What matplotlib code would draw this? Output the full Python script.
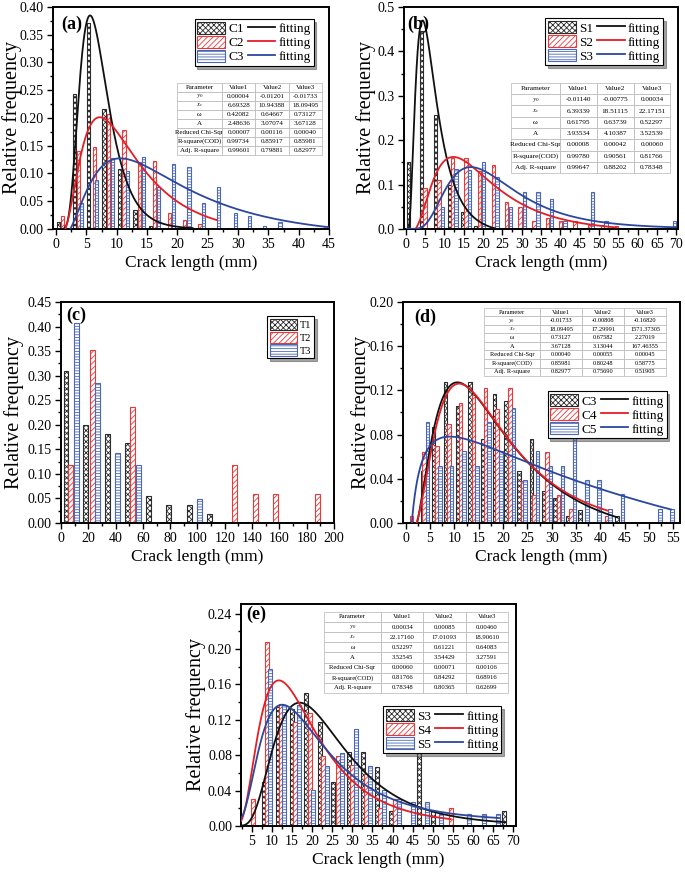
import numpy as np
import matplotlib.pyplot as plt
from matplotlib.patches import Patch
from matplotlib.lines import Line2D
from matplotlib.ticker import MultipleLocator, FormatStrFormatter

plt.rcParams['font.family'] = ['Liberation Serif', 'DejaVu Serif']
plt.rcParams['mathtext.fontset'] = 'stix'
plt.rcParams['hatch.linewidth'] = 0.6

# ---------------- data ----------------
# (a) C1 C2 C3
a1_x = [0.4, 3.0, 5.4, 7.9, 10.5, 13.0, 15.6]
a1_y = [0.013, 0.243, 0.372, 0.217, 0.108, 0.035, 0.005]
a2_x = [1.1, 3.7, 6.3, 8.6, 11.2, 13.8, 16.2, 18.7, 21.2, 23.7]
a2_y = [0.023, 0.140, 0.148, 0.208, 0.178, 0.120, 0.122, 0.028, 0.017, 0.009]
a3_x = [4.2, 6.7, 9.3, 11.8, 14.4, 16.9, 19.4, 21.9, 24.3, 26.8, 29.6, 31.9, 34.4, 36.9, 44.4]
a3_y = [0.047, 0.088, 0.128, 0.105, 0.129, 0.076, 0.117, 0.111, 0.047, 0.076, 0.029, 0.024, 0.005, 0.012, 0.005]

# (b) S1 S2 S3
b1_x = [0.7, 4.1, 7.8, 11.3, 14.7, 18.1]
b1_y = [0.152, 0.445, 0.256, 0.100, 0.038, 0.007]
b2_x = [5.0, 8.6, 12.1, 15.6, 19.1, 22.7, 26.1, 29.6, 33.2, 36.7, 40.1, 43.8, 47.5, 50.9, 54.6]
b2_y = [0.093, 0.110, 0.160, 0.160, 0.130, 0.143, 0.060, 0.050, 0.018, 0.025, 0.017, 0.017, 0.009, 0.010, 0.007]
b3_x = [9.5, 13.0, 16.5, 20.1, 23.6, 27.2, 30.7, 34.2, 37.8, 41.2, 48.3, 51.8, 69.5]
b3_y = [0.050, 0.135, 0.133, 0.150, 0.117, 0.050, 0.083, 0.083, 0.067, 0.017, 0.083, 0.017, 0.017]

# (c) T1 T2 T3
c1_x = [3.7, 18.3, 33.9, 48.5, 63.9, 78.5, 93.9, 108.5]
c1_y = [0.310, 0.200, 0.182, 0.163, 0.055, 0.037, 0.037, 0.018]
c2_x = [7.3, 22.9, 52.4, 127.3, 142.7, 157.3, 187.8]
c2_y = [0.118, 0.353, 0.236, 0.118, 0.059, 0.059, 0.059]
c3_x = [11.5, 26.6, 41.5, 56.6, 101.7]
c3_y = [0.407, 0.286, 0.143, 0.119, 0.048]

# (d) C3 C4 C5
d1_x = [3.5, 5.7, 8.2, 10.7, 13.2, 15.8, 18.2, 20.6, 23.3, 25.8, 28.3, 30.7, 33.3, 35.8, 43.4]
d1_y = [0.047, 0.087, 0.128, 0.106, 0.128, 0.076, 0.117, 0.110, 0.047, 0.076, 0.029, 0.023, 0.006, 0.012, 0.006]
d2_x = [1.2, 3.8, 6.4, 8.9, 11.3, 13.9, 16.4, 18.8, 21.4, 24.0, 26.4, 29.0, 31.4, 34.0, 41.3]
d2_y = [0.006, 0.064, 0.070, 0.090, 0.109, 0.116, 0.122, 0.103, 0.122, 0.038, 0.025, 0.064, 0.025, 0.013, 0.006]
d3_x = [4.45, 7.05, 9.45, 12.0, 14.6, 17.1, 19.6, 22.1, 24.5, 27.1, 29.7, 32.2, 34.7, 37.2, 39.7, 42.0, 44.5, 52.3, 54.7]
d3_y = [0.091, 0.052, 0.052, 0.065, 0.052, 0.091, 0.065, 0.104, 0.039, 0.065, 0.052, 0.052, 0.078, 0.039, 0.039, 0.013, 0.026, 0.013, 0.013]

# (e) S3 S4 S5
e1_x = [7.9, 11.5, 15.0, 18.4, 22.0, 25.3, 29.1, 32.6, 36.1, 39.7, 46.7, 50.2, 67.8]
e1_y = [0.050, 0.135, 0.132, 0.150, 0.117, 0.050, 0.084, 0.084, 0.067, 0.017, 0.084, 0.017, 0.017]
e2_x = [5.2, 8.7, 12.3, 15.8, 19.4, 22.8, 26.4, 29.9, 33.5, 36.9, 40.5, 54.5]
e2_y = [0.030, 0.208, 0.138, 0.118, 0.128, 0.079, 0.079, 0.069, 0.059, 0.020, 0.030, 0.020]
e3_x = [9.6, 13.1, 16.6, 20.3, 23.8, 27.4, 30.9, 34.5, 38.0, 41.5, 45.0, 48.6, 52.1, 59.1, 62.7, 66.2]
e3_y = [0.178, 0.137, 0.137, 0.041, 0.068, 0.082, 0.110, 0.068, 0.041, 0.030, 0.027, 0.027, 0.014, 0.014, 0.014, 0.014]

# fitted lognormal parameters (y0, xc, w, A) from the tables
a_fit = [(0.00004, 6.69328, 0.42082, 2.48636), (-0.01201, 10.94388, 0.64667, 3.07074), (-0.01733, 18.09495, 0.73127, 3.67128)]
b_fit = [(-0.01140, 6.39339, 0.61795, 3.93534), (-0.00775, 18.51115, 0.63739, 4.10387), (0.00034, 22.17151, 0.52297, 3.52539)]
d_fit = [(-0.01733, 18.09495, 0.73127, 3.67128), (-0.00808, 17.29991, 0.67582, 3.13044), (-0.16820, 1571.37305, 2.27019, 167.46355)]
e_fit = [(0.00034, 22.17160, 0.52297, 3.52545), (0.00085, 17.01093, 0.61221, 3.54429), (0.00460, 18.90610, 0.64083, 3.27591)]
a_rng = [(0.3, 22.5), (0.3, 26.5), (0.3, 45)]
b_rng = [(0.3, 23), (0.3, 54.5), (0.3, 70)]
d_rng = [(0.5, 43.5), (0.5, 41.5), (0.5, 54.5)]
e_rng = [(2.3, 68), (2.3, 54.5), (2.3, 66.5)]

row_names = ['$y_0$', '$x_c$', 'ω', 'A', 'Reduced Chi-Sqr', 'R-square(COD)', 'Adj. R-square']
a_stats = [('0.00007', '0.00116', '0.00040'), ('0.99734', '0.85917', '0.85981'), ('0.99601', '0.79881', '0.82977')]
b_stats = [('0.00008', '0.00042', '0.00060'), ('0.99780', '0.90561', '0.81766'), ('0.99647', '0.88202', '0.78348')]
d_stats = [('0.00040', '0.00055', '0.00045'), ('0.85981', '0.80248', '0.58775'), ('0.82977', '0.75690', '0.51905')]
e_stats = [('0.00060', '0.00071', '0.00106'), ('0.81766', '0.84292', '0.68916'), ('0.78348', '0.80365', '0.62699')]

COLS = ['#2b2b2b', '#e8383a', '#4a68b5']
LCOLS = ['#111111', '#e41e25', '#2b47a0']
HATCH = ['xxxxxx', '//////', '------']


def lognorm(x, y0, xc, w, A):
    return y0 + A / (np.sqrt(2 * np.pi) * w * x) * np.exp(-np.log(x / xc) ** 2 / (2 * w ** 2))


def bars(ax, xs, ys, width):
    for i in range(3):
        ax.bar(xs[i], ys[i], width=width, facecolor='white', edgecolor=COLS[i],
               hatch=HATCH[i], linewidth=0.8, zorder=2 + i * 0.1)


def curves(ax, fits, rngs):
    for i in range(3):
        x = np.linspace(rngs[i][0], rngs[i][1], 400)
        ax.plot(x, lognorm(x, *fits[i]), color=LCOLS[i], lw=1.3, zorder=5)


def table(ax, fits, stats, bbox, fs=5):
    rows = [['Parameter', 'Value1', 'Value2', 'Value3']]
    for k in range(4):
        rows.append([row_names[k]] + ['%.5f' % f[k] for f in fits])
    for k in range(3):
        rows.append([row_names[4 + k]] + list(stats[k]))
    t = ax.table(cellText=rows, bbox=bbox, cellLoc='center',
                 colWidths=[0.31, 0.23, 0.23, 0.23], zorder=6)
    t.auto_set_font_size(False)
    t.set_fontsize(fs)
    for c in t.get_celld().values():
        c.set_edgecolor('#b5b5b5')
        c.set_linewidth(0.5)
        c.set_facecolor('white')
        c.get_text().set_fontfamily('Liberation Serif')
    return t


def legend(ax, names, anchor, fits=True, fs=9.5):
    hp = [Patch(facecolor='white', edgecolor=COLS[i], hatch=HATCH[i], lw=0.8) for i in range(3)]
    if fits:
        hl = [Line2D([], [], color=LCOLS[i], lw=1.3) for i in range(3)]
        lg = ax.legend(hp + hl, names + ['fitting'] * 3, ncol=2, loc='upper right',
                       bbox_to_anchor=anchor, fontsize=fs, handlelength=2.1,
                       handleheight=1.0, handletextpad=0.25, columnspacing=0.3,
                       labelspacing=0.05, borderpad=0.2, fancybox=False, shadow=True)
    else:
        lg = ax.legend(hp, names, loc='upper right', bbox_to_anchor=anchor, fontsize=fs,
                       handlelength=2.6, handleheight=1.3, handletextpad=0.3,
                       labelspacing=0.15, borderpad=0.25, fancybox=False, shadow=True)
    lg.get_frame().set_edgecolor('black')
    lg.get_frame().set_linewidth(0.8)
    lg.set_zorder(7)


def style(ax, xlim, ylim, xmaj, ymaj, yfmt, tag, tagpos, ylab_x):
    ax.set_xlim(*xlim)
    ax.set_ylim(*ylim)
    ax.xaxis.set_major_locator(MultipleLocator(xmaj))
    ax.xaxis.set_minor_locator(MultipleLocator(xmaj / 2))
    ax.yaxis.set_major_locator(MultipleLocator(ymaj))
    ax.yaxis.set_minor_locator(MultipleLocator(ymaj / 2))
    ax.yaxis.set_major_formatter(FormatStrFormatter(yfmt))
    ax.tick_params(which='both', direction='out', top=False, right=False, labelsize=10, width=1)
    ax.tick_params(which='major', length=4, pad=2.5)
    ax.tick_params(which='minor', length=2)
    for s in ax.spines.values():
        s.set_linewidth(1.4)
    ax.set_xlabel('Crack length (mm)', fontsize=12.5, labelpad=3)
    ax.set_ylabel('Relative frequency', fontsize=14.5)
    ax.yaxis.set_label_coords(ylab_x, 0.5)
    ax.yaxis.label.set_verticalalignment('center')
    ax.text(tagpos[0], tagpos[1], tag, transform=ax.transAxes, fontsize=13,
            fontweight='bold', va='center', zorder=8)


fig = plt.figure(figsize=(6.85, 8.74), dpi=100)

# (a)
ax = fig.add_axes([0.0774, 0.738, 0.403, 0.254])
bars(ax, [a1_x, a2_x, a3_x], [a1_y, a2_y, a3_y], 0.55)
curves(ax, a_fit, a_rng)
style(ax, (-0.5, 45), (0, 0.40), 5, 0.05, '%.2f', '(a)', (0.03, 0.92), -0.15)
table(ax, a_fit, a_stats, [0.449, 0.333, 0.526, 0.325])
legend(ax, ['C1', 'C2', 'C3'], (0.968, 0.975))

# (b)
ax = fig.add_axes([0.590, 0.738, 0.400, 0.254])
bars(ax, [b1_x, b2_x, b3_x], [b1_y, b2_y, b3_y], 0.85)
curves(ax, b_fit, b_rng)
style(ax, (-0.4, 70.5), (0, 0.5), 5, 0.1, '%.1f', '(b)', (0.01, 0.92), -0.139)
table(ax, b_fit, b_stats, [0.389, 0.252, 0.582, 0.406], fs=5.2)
legend(ax, ['S1', 'S2', 'S3'], (0.968, 0.978))

# (c)
ax = fig.add_axes([0.089, 0.4016, 0.3986, 0.2529])
bars(ax, [c1_x, c2_x, c3_x], [c1_y, c2_y, c3_y], 3.6)
style(ax, (0, 200), (0, 0.45), 20, 0.05, '%.2f', '(c)', (0.02, 0.94), -0.172)
legend(ax, ['T1', 'T2', 'T3'], (0.945, 0.96), fits=False, fs=7.5)

# (d)
ax = fig.add_axes([0.588, 0.4016, 0.405, 0.2529])
bars(ax, [d1_x, d2_x, d3_x], [d1_y, d2_y, d3_y], 0.72)
curves(ax, d_fit, d_rng)
style(ax, (-0.6, 56.4), (0, 0.20), 5, 0.04, '%.2f', '(d)', (0.04, 0.93), -0.152)
table(ax, d_fit, d_stats, [0.292, 0.665, 0.657, 0.308], fs=4.6)
legend(ax, ['C3', 'C4', 'C5'], (0.975, 0.625))

# (e)
ax = fig.add_axes([0.352, 0.0549, 0.401, 0.2541])
bars(ax, [e1_x, e2_x, e3_x], [e1_y, e2_y, e3_y], 1.0)
curves(ax, e_fit, e_rng)
style(ax, (2.3, 70.7), (0, 0.251), 5, 0.04, '%.2f', '(e)', (0.02, 0.955), -0.165)
ax.set_xticks(np.arange(5, 71, 5))
table(ax, e_fit, e_stats, [0.302, 0.599, 0.669, 0.365], fs=4.8)
legend(ax, ['S3', 'S4', 'S5'], (0.97, 0.568))

plt.savefig('out.png', dpi=100)
